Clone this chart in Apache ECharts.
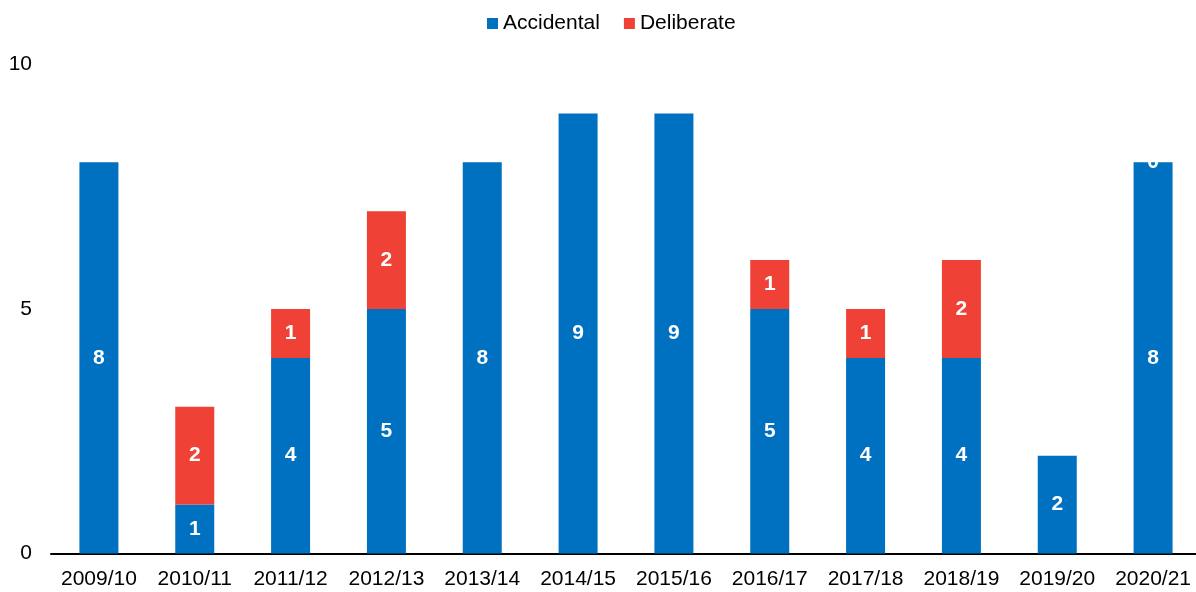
<!DOCTYPE html>
<html>
<head>
<meta charset="utf-8">
<script src="https://cdn.jsdelivr.net/npm/echarts@6/dist/echarts.min.js"></script>
<style>
  html, body { margin: 0; padding: 0; background: #fff; overflow: hidden; }
  #chart { width: 1202px; height: 592px; }
</style>
</head>
<body>
<div id="chart"></div>
<script>
// 年度
const years = ['2009/10', '2010/11', '2011/12', '2012/13', '2013/14', '2014/15',
  '2015/16', '2016/17', '2017/18', '2018/19', '2019/20', '2020/21']
// 意外
const accidental = [8, 1, 4, 5, 8, 9, 9, 5, 4, 4, 2, 8]
// 故意 (null = no value shown)
const deliberate = [null, 2, 1, 2, null, null, null, 1, 1, 2, null, 0]
const yTicks = { min: 0, max: 10, interval: 5 }

const font = 'Liberation Sans, Arial, sans-serif'
const barLabel = {
  show: true,
  position: 'inside',
  color: '#fff',
  fontWeight: 'bold',
  fontSize: 21,
  fontFamily: font
}

const option = {
  animation: false,
  legend: {
    top: 8,
    left: 482,
    itemWidth: 11,
    itemHeight: 11,
    itemGap: 24,
    icon: 'rect',
    textStyle: { fontSize: 21, color: '#000', fontFamily: font },
    data: ['Accidental', 'Deliberate']
  },
  grid: {
    left: 51,
    right: 1,
    top: 64.5,
    bottom: 38.5,
    containLabel: false
  },
  xAxis: {
    type: 'category',
    data: years,
    axisLine: { lineStyle: { color: '#000', width: 2 } },
    axisTick: { show: false },
    axisLabel: { fontSize: 21, color: '#000', fontFamily: font, margin: 15, interval: 0 }
  },
  yAxis: {
    type: 'value',
    min: yTicks.min,
    max: yTicks.max,
    interval: yTicks.interval,
    axisLine: { show: false },
    axisTick: { show: false },
    splitLine: { show: false },
    axisLabel: { fontSize: 21, color: '#000', fontFamily: font, margin: 19 }
  },
  series: [
    {
      name: 'Accidental',
      type: 'bar',
      stack: 'total',
      barWidth: 39,
      data: accidental,
      itemStyle: { color: '#0070C0' },
      label: barLabel
    },
    {
      name: 'Deliberate',
      type: 'bar',
      stack: 'total',
      barWidth: 39,
      data: deliberate,
      itemStyle: { color: '#EF4136' },
      label: barLabel
    }
  ]
}

echarts.init(document.getElementById('chart')).setOption(option)
</script>
</body>
</html>
